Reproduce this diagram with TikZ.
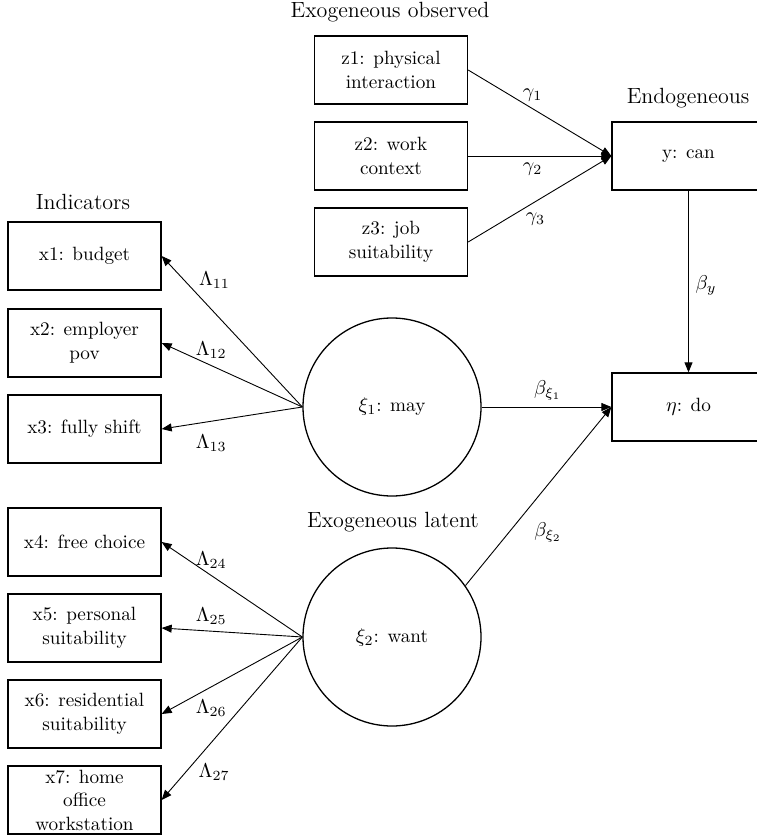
\documentclass[tikz,border=0pt]{standalone}
\usetikzlibrary{arrows.meta}

\begin{document}
\begin{tikzpicture}[x=0.5pt, y=-0.5pt, line width=0.45pt,
                    observed/.style = {rectangle, draw, line width=0.65pt, align=center,
                                       minimum width=76.5pt, minimum height=34pt, inner sep=0.5pt},
                    latent/.style = {circle, draw, line width=0.65pt, minimum size=89pt, inner sep=0pt},
                    heading/.style = {inner sep=0pt, font=\fontsize{11pt}{13pt}\selectfont},
                    >={Triangle[length=5pt, width=4pt]},
                    font=\fontsize{9.6pt}{12pt}\selectfont]
  \useasboundingbox (0, 0) rectangle (756, 839);

  % Exogeneous observed.
  \node at (391, 70) [observed, name=Physical] {z1: physical\\interaction};
  \node at (391, 156) [observed, name=WorkContext] {z2: work\\context};
  \node at (391, 242) [observed, name=JobSuit] {z3: job\\suitability};

  % Endogeneous.
  \node at (688.5, 156) [observed, name=Can] {y: can};
  \node at (688.5, 407) [observed, name=Do] {$\eta$: do};

  % Indicators.
  \node at (84.5, 256) [observed, name=Budget] {x1: budget};
  \node at (84.5, 343) [observed, name=EmployerPov] {x2: employer\\pov};
  \node at (84.5, 429) [observed, name=FullyShift] {x3: fully shift};
  \node at (84.5, 542) [observed, name=FreeChoice] {x4: free choice};
  \node at (84.5, 628) [observed, name=PersonalSuit] {x5: personal\\suitability};
  \node at (84.5, 714) [observed, name=ResidentialSuit] {x6: residential\\suitability};
  \node at (84.5, 800) [observed, name=HomeOffice, font=\fontsize{9.6pt}{11.75pt}\selectfont] {x7: home\\office\\workstation};

  % Exogeneous latent.
  \node at (392, 407) [latent, name=May] {$\xi_1$: may};
  \node at (392, 637) [latent, name=Want] {$\xi_2$: want};

  % Headings.
  \node at (390, 12) [heading, name=ObservedHead] {Exogeneous observed};
  \node at (83, 202) [heading, name=IndicatorsHead] {Indicators};
  \node at (688, 98) [heading, name=EndogeneousHead] {Endogeneous};
  \node at (393, 522) [heading, name=LatentHead] {Exogeneous latent};

  % Structural paths.
  \draw [->] (Physical.east)
             to node [pos=0.45, above] {$\gamma_1$}
             (Can.west);
  \draw [->] (WorkContext.east)
             to node [pos=0.45, below] {$\gamma_2$}
             (Can.west);
  \draw [->] (JobSuit.east)
             to node [pos=0.47, below=2pt] {$\gamma_3$}
             (Can.west);
  \draw [->] (Can.south)
             to node [pos=0.52, right] {$\beta_y$}
             (Do.north);
  \draw [->] (May.east)
             to node [pos=0.51, above] {$\beta_{\xi_1}$}
             (Do.west);
  \draw [->] (Want.35)
             to node [pos=0.3, right=9pt] {$\beta_{\xi_2}$}
             (Do.west);

  % Loadings of may.
  \draw [->] (May.west)
             to node [pos=0.842, right=4pt] {$\Lambda_{11}$}
             (Budget.east);
  \draw [->] (May.west)
             to node [pos=0.648, above] {$\Lambda_{12}$}
             (EmployerPov.east);
  \draw [->] (May.west)
             to node [pos=0.648, below=3pt] {$\Lambda_{13}$}
             (FullyShift.east);

  % Loadings of want.
  \draw [->] (Want.west)
             to node [pos=0.648, above] {$\Lambda_{24}$}
             (FreeChoice.east);
  \draw [->] (Want.west)
             to node [pos=0.648, above] {$\Lambda_{25}$}
             (PersonalSuit.east);
  \draw [->] (Want.west)
             to node [pos=0.648, below=3pt] {$\Lambda_{26}$}
             (ResidentialSuit.east);
  \draw [->] (Want.west)
             to node [pos=0.83, right=3pt] {$\Lambda_{27}$}
             (HomeOffice.east);
\end{tikzpicture}
\end{document}
